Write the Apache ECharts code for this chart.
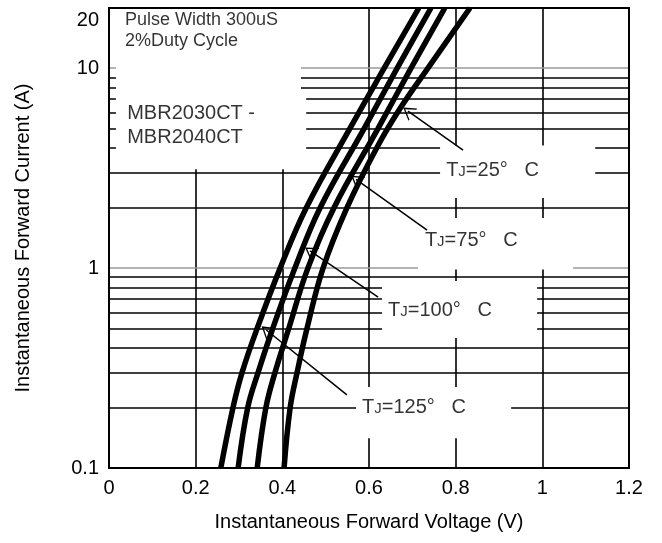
<!DOCTYPE html>
<html>
<head>
<meta charset="utf-8">
<script src="https://cdn.jsdelivr.net/npm/echarts@6/dist/echarts.min.js"></script>
<style>
html,body{margin:0;padding:0;background:#fff;}
#chart{width:662px;height:543px;}
</style>
</head>
<body>
<div id="chart"></div>
<script>
// ---- data ----
const tempLabels = ['125', '100', '75', '25'];
const curve125I = [0.1, 0.2, 0.3, 0.5, 1, 2, 5, 10, 20];
const curve125V = [0.258, 0.286, 0.307, 0.342, 0.395, 0.455, 0.556, 0.635, 0.715];
const curve100I = [0.1, 0.2, 0.3, 0.5, 1, 2, 5, 10, 20];
const curve100V = [0.298, 0.320, 0.344, 0.378, 0.429, 0.487, 0.589, 0.665, 0.743];
const curve75I  = [0.1, 0.2, 0.3, 0.5, 1, 2, 5, 10, 20];
const curve75V  = [0.342, 0.362, 0.383, 0.415, 0.459, 0.519, 0.621, 0.697, 0.775];
const curve25I  = [0.1, 0.2, 0.3, 0.5, 1, 2, 4, 6.3, 10, 20];
const curve25V  = [0.404, 0.418, 0.434, 0.457, 0.494, 0.549, 0.618, 0.672, 0.736, 0.833];
const minorCurrents = [0.2, 0.3, 0.4, 0.5, 0.6, 0.7, 0.8, 0.9, 2, 3, 4, 5, 6, 7, 8, 9];
const decadeCurrents = [1, 10];
const xTicks = [0, 0.2, 0.4, 0.6, 0.8, 1, 1.2];

const FONT = '"Liberation Sans", Arial, sans-serif';
const chart = echarts.init(document.getElementById('chart'), null, {renderer: 'canvas'});

function pairs(vs, is) { return vs.map((v, i) => [v, is[i]]); }

const curveSeries = [
  [curve125V, curve125I], [curve100V, curve100I], [curve75V, curve75I], [curve25V, curve25I]
].map((c, k) => ({
  name: 'TJ=' + tempLabels[k],
  type: 'line',
  data: pairs(c[0], c[1]),
  smooth: 0.4,
  showSymbol: false,
  symbol: 'none',
  z: 3,
  lineStyle: {color: '#000', width: 5.5, cap: 'butt'},
  silent: true
}));

const chev = 'path://M7,0 L14,12 L12.6,12 L7,2.6 L1.4,12 L0,12 Z';

const gridLines = {
  name: 'grid', type: 'line', data: [], silent: true,
  markLine: {
    z: 1, silent: true, symbol: ['none', 'none'], label: {show: false},
    animation: false,
    data: minorCurrents.map(v => ({yAxis: v, lineStyle: {color: '#000', width: 1.6, type: 'solid'}}))
      .concat(decadeCurrents.map(v => ({yAxis: v, lineStyle: {color: '#9a9a9a', width: 1.6, type: 'solid'}})))
  }
};

const boxes = {
  name: 'boxes', type: 'line', data: [], silent: true,
  markArea: {
    z: 2, silent: true, animation: false,
    itemStyle: {color: '#fff', opacity: 1},
    label: {show: false},
    data: [
      [{coord: [0.016, 20]}, {coord: [0.443, 7.6]}],
      [{coord: [0.016, 7.6]}, {coord: [0.455, 3.12]}],
      [{coord: [0.764, 4.1]}, {coord: [1.122, 2.24]}],
      [{coord: [0.713, 1.78]}, {coord: [1.071, 0.985]}],
      [{coord: [0.630, 0.861]}, {coord: [0.988, 0.447]}],
      [{coord: [0.570, 0.254]}, {coord: [0.928, 0.141]}]
    ]
  }
};

const arrows = {
  name: 'arrows', type: 'line', data: [], silent: true,
  markLine: {
    z: 4, silent: true, animation: false,
    symbol: ['none', chev], symbolSize: [15, 12],
    label: {show: false},
    lineStyle: {color: '#000', width: 1.5, type: 'solid'},
    data: [
      [{coord: [0.817, 3.89]}, {coord: [0.690, 6.1]}],
      [{coord: [0.734, 1.55]}, {coord: [0.570, 2.78]}],
      [{coord: [0.621, 0.716]}, {coord: [0.464, 1.22]}],
      [{coord: [0.549, 0.232]}, {coord: [0.363, 0.49]}]
    ]
  }
};

function tj(t) { return '{t|T}{j|J}{t|=' + t + '°   C}'; }
const tjRich = {
  t: {fontSize: 20, fontFamily: FONT, color: '#000', verticalAlign: 'bottom'},
  j: {fontSize: 15, fontFamily: FONT, color: '#000', verticalAlign: 'bottom', padding: [0, 0, 1, 0]}
};

const notes = {
  name: 'notes', type: 'scatter', symbolSize: 0, silent: true, z: 5,
  data: [
    {value: [0.037, 15.4], label: {formatter: 'Pulse Width 300uS\n2%Duty Cycle', fontSize: 18, lineHeight: 21}},
    {value: [0.042, 5.19], label: {formatter: 'MBR2030CT -\nMBR2040CT', fontSize: 20, lineHeight: 24}},
    {value: [0.778, 3.09], label: {formatter: tj('25'), rich: tjRich}},
    {value: [0.729, 1.38], label: {formatter: tj('75'), rich: tjRich}},
    {value: [0.644, 0.617], label: {formatter: tj('100'), rich: tjRich}},
    {value: [0.584, 0.2], label: {formatter: tj('125'), rich: tjRich}}
  ],
  label: {show: true, position: 'right', distance: 0, align: 'left', verticalAlign: 'middle',
          color: '#000', fontFamily: FONT}
};

chart.setOption({
  animation: false,
  backgroundColor: '#fff',
  grid: {left: 109, right: 33, top: 8, bottom: 75, show: true, borderColor: '#000', borderWidth: 2, backgroundColor: 'transparent', z: 6},
  xAxis: {
    type: 'value', min: xTicks[0], max: xTicks[xTicks.length - 1], interval: 0.2,
    axisLine: {show: false}, axisTick: {show: false},
    splitLine: {show: true, lineStyle: {color: '#000', width: 1.6}},
    axisLabel: {color: '#000', fontSize: 20, fontFamily: FONT, margin: 10},
    name: 'Instantaneous Forward Voltage (V)', nameLocation: 'middle', nameGap: 44,
    nameTextStyle: {color: '#000', fontSize: 20, fontFamily: FONT}
  },
  yAxis: {
    type: 'log', logBase: 10, min: 0.1, max: 20,
    axisLine: {show: false}, axisTick: {show: false},
    splitLine: {show: false},
    axisLabel: {color: '#000', fontSize: 20, fontFamily: FONT, margin: 10, showMaxLabel: true, showMinLabel: true,
                formatter: v => {
                  const n = +(+v).toPrecision(6);
                  return n === 20 ? '{top|' + n + '}' : String(n);
                },
                rich: {top: {fontSize: 20, fontFamily: FONT, color: '#000', padding: [24, 0, 0, 0]}}},
    name: 'Instantaneous Forward Current (A)', nameLocation: 'middle', nameGap: 76,
    nameTextStyle: {color: '#000', fontSize: 20, fontFamily: FONT}
  },
  series: [gridLines, boxes].concat(curveSeries, [arrows, notes])
});
</script>
</body>
</html>
